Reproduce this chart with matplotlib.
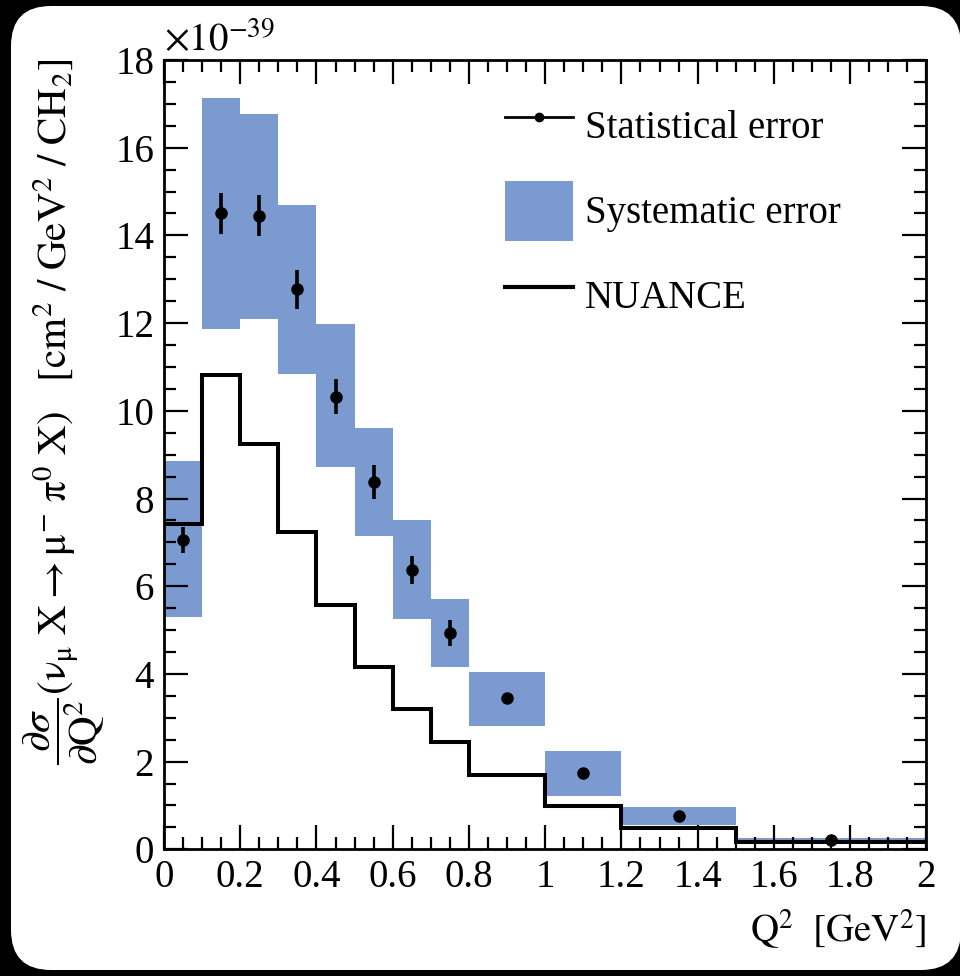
import numpy as np
import matplotlib
matplotlib.use('Agg')
import matplotlib.pyplot as plt
from matplotlib.lines import Line2D
from matplotlib.patches import Patch, FancyBboxPatch
from matplotlib.ticker import MultipleLocator, FuncFormatter

plt.rcParams['font.family'] = ['Liberation Serif', 'DejaVu Serif']
plt.rcParams['mathtext.fontset'] = 'stix'

### DATA (units of 1e-39 cm^2 / GeV^2 / CH2) ###
edges = [0.0, 0.1, 0.2, 0.3, 0.4, 0.5, 0.6, 0.7, 0.8, 1.0, 1.2, 1.5, 2.0]
xsec = [7.05, 14.5, 14.45, 12.77, 10.32, 8.38, 6.38, 4.94, 3.44, 1.74, 0.76, 0.21]
stat = [0.30, 0.47, 0.47, 0.45, 0.40, 0.38, 0.32, 0.30, 0.12, 0.11, 0.06, 0.03]
systLo = [5.29, 11.86, 12.09, 10.84, 8.71, 7.15, 5.26, 4.16, 2.82, 1.22, 0.55, 0.15]
systHi = [8.85, 17.13, 16.78, 14.69, 11.98, 9.61, 7.51, 5.71, 4.04, 2.24, 0.965, 0.26]
nuance = [7.43, 10.82, 9.24, 7.24, 5.57, 4.16, 3.21, 2.45, 1.69, 0.99, 0.49, 0.16]

edges = np.array(edges)
centers = 0.5 * (edges[:-1] + edges[1:])
widths = np.diff(edges)

colorSyst = '#7b9ad0'
fs = 28

fig = plt.figure(figsize=(9.6, 9.76), dpi=100, facecolor='black')
bg = FancyBboxPatch((0.11, 0.06), 9.5, 9.64, boxstyle='round,pad=0,rounding_size=0.4',
                    transform=fig.dpi_scale_trans, facecolor='white', edgecolor='none', zorder=-10)
fig.patches.append(bg)

ax = fig.add_axes([0.1708, 0.1298, 0.7942, 0.8087])
ax.set_facecolor('white')

ax.bar(centers, np.array(systHi) - np.array(systLo), bottom=systLo, width=widths,
       color=colorSyst, linewidth=0, zorder=1)
ax.stairs(nuance, edges, baseline=None, color='black', linewidth=2.9, zorder=2)
ax.errorbar(centers, xsec, yerr=stat, fmt='o', color='black', ms=8, elinewidth=2.6,
            capsize=0, zorder=3)

ax.set_xlim(0, 2)
ax.set_ylim(0, 18)
ax.xaxis.set_major_locator(MultipleLocator(0.2))
ax.xaxis.set_minor_locator(MultipleLocator(0.05))
ax.yaxis.set_major_locator(MultipleLocator(2))
ax.yaxis.set_minor_locator(MultipleLocator(0.5))
ax.xaxis.set_major_formatter(FuncFormatter(lambda v, p: '%g' % round(v, 2)))
ax.tick_params(which='both', direction='in', top=True, right=True, width=1.6, labelsize=fs)
ax.tick_params(which='major', length=17, pad=7)
ax.tick_params(which='minor', length=8.5)
for s in ax.spines.values():
    s.set_linewidth(2)

ax.text(0.0, 1.0, r'$\times10^{-39}$', transform=ax.transAxes, fontsize=fs,
        ha='left', va='bottom')

ax.set_xlabel(r'$\mathrm{Q}^{2}\ \ [\mathrm{GeV}^{2}]$', fontsize=fs, loc='right', labelpad=8)
fig.text(0.066, 0.94,
         r'$\dfrac{\partial\sigma}{\partial \mathrm{Q}^{2}}(\mathrm{\nu}_{\mathrm{\mu}}\ \mathrm{X}\rightarrow\mathrm{\mu}^{-}\ \mathrm{\pi}^{0}\ \mathrm{X})'
         r'\ \ \ [\mathrm{cm}^{2}\ /\ \mathrm{GeV}^{2}\ /\ \mathrm{CH}_{2}]$',
         rotation=90, fontsize=29.5, ha='center', va='top')

handles = [Line2D([], [], color='black', lw=2, marker='o', ms=6),
           Patch(facecolor=colorSyst, edgecolor='none'),
           Line2D([], [], color='black', lw=3)]
labels = ['Statistical error', 'Systematic error', 'NUANCE']
ax.legend(handles, labels, loc='upper left', bbox_to_anchor=(0.427, 0.975), frameon=False,
          fontsize=fs, handlelength=1.75, handleheight=2.0, handletextpad=0.3,
          labelspacing=0.65, borderaxespad=0)

fig.savefig('out.png', dpi=100, facecolor=fig.get_facecolor())
